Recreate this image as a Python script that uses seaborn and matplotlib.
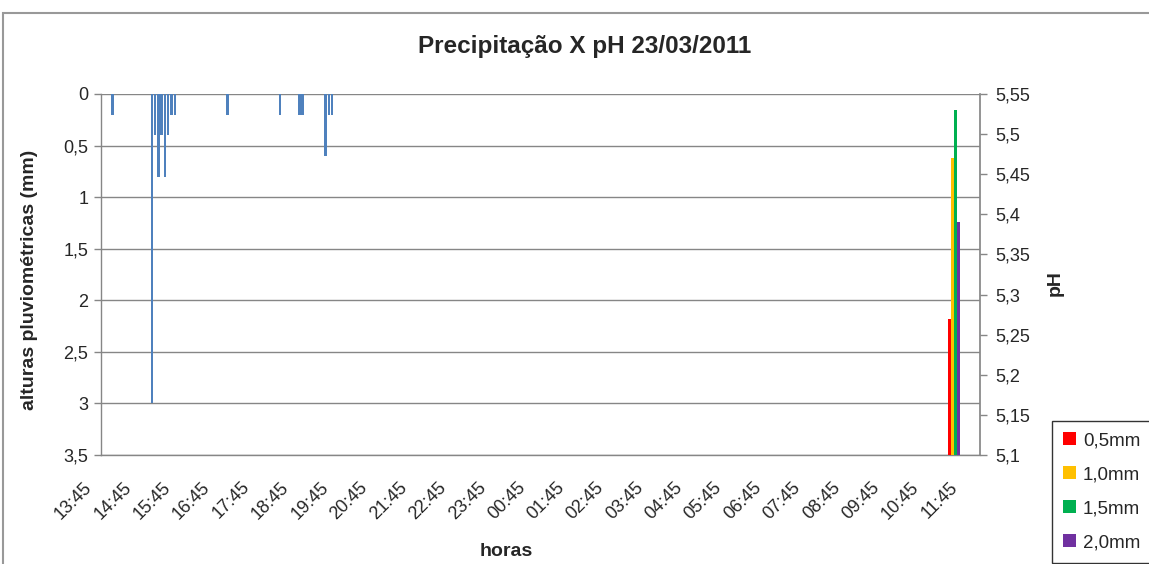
import numpy as np
import pandas as pd
import matplotlib
matplotlib.use("Agg")
import matplotlib.pyplot as plt
import matplotlib.transforms as mtransforms
from matplotlib.patches import Rectangle, Patch
import seaborn as sns

# ---------------- data ----------------
slot_start = "2011-03-23 13:45"
n_slots = 268  # 5-minute slots shown on the category axis

rain_times = ["14:00", "15:00", "15:05", "15:10", "15:15", "15:20", "15:25",
              "15:30", "15:35", "16:55", "18:15", "18:45", "18:50",
              "19:25", "19:30", "19:35"]
rain_mm = [0.2, 3.0, 0.4, 0.8, 0.4, 0.8, 0.4,
           0.2, 0.2, 0.2, 0.2, 0.2, 0.2,
           0.6, 0.2, 0.2]

tick_labels = ["13:45", "14:45", "15:45", "16:45", "17:45", "18:45", "19:45",
               "20:45", "21:45", "22:45", "23:45", "00:45", "01:45", "02:45",
               "03:45", "04:45", "05:45", "06:45", "07:45", "08:45", "09:45",
               "10:45", "11:45"]

left_ticks = [0, 0.5, 1, 1.5, 2, 2.5, 3, 3.5]
right_ticks = [5.1, 5.15, 5.2, 5.25, 5.3, 5.35, 5.4, 5.45, 5.5, 5.55]

ph_time = "11:25"
ph_series = ["0,5mm", "1,0mm", "1,5mm", "2,0mm"]
ph_values = [5.27, 5.47, 5.53, 5.39]
ph_colors = ["#FF0000", "#FFC000", "#00B050", "#7030A0"]

title = "Precipitação X pH 23/03/2011"

# ---------------- build ----------------
times = pd.date_range(slot_start, periods=n_slots, freq="5min").strftime("%H:%M").tolist()
df = pd.DataFrame({"hora": times, "mm": 0.0})
for t, v in zip(rain_times, rain_mm):
    df.loc[df["hora"] == t, "mm"] = v

sns.set_theme(style="white")
plt.rcParams["font.family"] = ["Liberation Sans", "DejaVu Sans"]

W, H = 1149, 564
fig = plt.figure(figsize=(W / 100, H / 100), dpi=100)
ax = fig.add_axes([101 / W, 1 - 455 / H, 879 / W, 361 / H])

sns.barplot(data=df, x="hora", y="mm", order=times, color="#4F81BD",
            saturation=1, width=0.75, errorbar=None, linewidth=0, ax=ax)
ax.set_xlim(-0.5, n_slots - 0.5)
ax.set_ylim(3.5, 0)
ax.set_xlabel("")
ax.set_ylabel("")

gray = "#868686"
ax.set_yticks(left_ticks)
ax.set_yticklabels([("%g" % v).replace(".", ",") for v in left_ticks], fontsize=13)
ax.yaxis.grid(True, color=gray, lw=1)
ax.set_axisbelow(True)
ax.tick_params(axis="y", which="major", left=True, length=5, width=1, color=gray, pad=4)

ax.set_xticks([times.index(t) for t in tick_labels])
ax.set_xticklabels(tick_labels, rotation=45, ha="right", fontsize=13)
ax.tick_params(axis="x", length=0, pad=17)
shift = mtransforms.ScaledTranslation(-7 / 100, 0, fig.dpi_scale_trans)
for lbl in ax.get_xticklabels():
    lbl.set_transform(lbl.get_transform() + shift)

for s in ["top", "right"]:
    ax.spines[s].set_visible(False)
for s in ["left", "bottom"]:
    ax.spines[s].set_color(gray)
    ax.spines[s].set_linewidth(1)

# secondary axis: pH
ax2 = ax.twinx()
center = times.index(ph_time) - 0.35
bw = 0.92
for k, (v, c) in enumerate(zip(ph_values, ph_colors)):
    ax2.bar(center + (k - 1.5) * bw, v, width=bw, color=c, linewidth=0)
ax2.set_ylim(5.1, 5.55)
ax2.set_yticks(right_ticks)
ax2.set_yticklabels([("%.2f" % v).rstrip("0").replace(".", ",") for v in right_ticks], fontsize=13)
ax2.tick_params(axis="y", right=True, length=5, width=1, color=gray, pad=6)
ax2.grid(False)
for s in ["top", "left", "bottom"]:
    ax2.spines[s].set_visible(False)
ax2.spines["right"].set_color(gray)

# texts
fig.text(585 / W, 1 - 47 / H, title, ha="center", va="center",
         fontsize=17.5, fontweight="bold")
fig.text(30 / W, 1 - 280 / H, "alturas pluviométricas (mm)", rotation=90,
         ha="center", va="center", fontsize=14, fontweight="bold")
fig.text(1055 / W, 1 - 283 / H, "pH", rotation=90, ha="center", va="center",
         fontsize=14, fontweight="bold")
fig.text(506 / W, 1 - 551 / H, "horas", ha="center", va="center",
         fontsize=14, fontweight="bold")

# legend
handles = [Patch(facecolor=c, edgecolor="none") for c in ph_colors]
leg = fig.legend(handles, ph_series, loc="upper left",
                 bbox_to_anchor=(1052 / W, 1 - 421 / H), frameon=True,
                 fancybox=False, edgecolor="black", fontsize=13.5,
                 handlelength=0.7, handleheight=0.7, labelspacing=0.9,
                 borderpad=0.6, handletextpad=0.35, borderaxespad=0)
leg.get_frame().set_linewidth(1)

# chart-area border
fig.add_artist(Rectangle((3 / W, -0.5), 2, 0.5 + 1 - 13 / H, transform=fig.transFigure,
                         fill=False, edgecolor="#999999", lw=1.5))

fig.savefig("out.png", dpi=100)
